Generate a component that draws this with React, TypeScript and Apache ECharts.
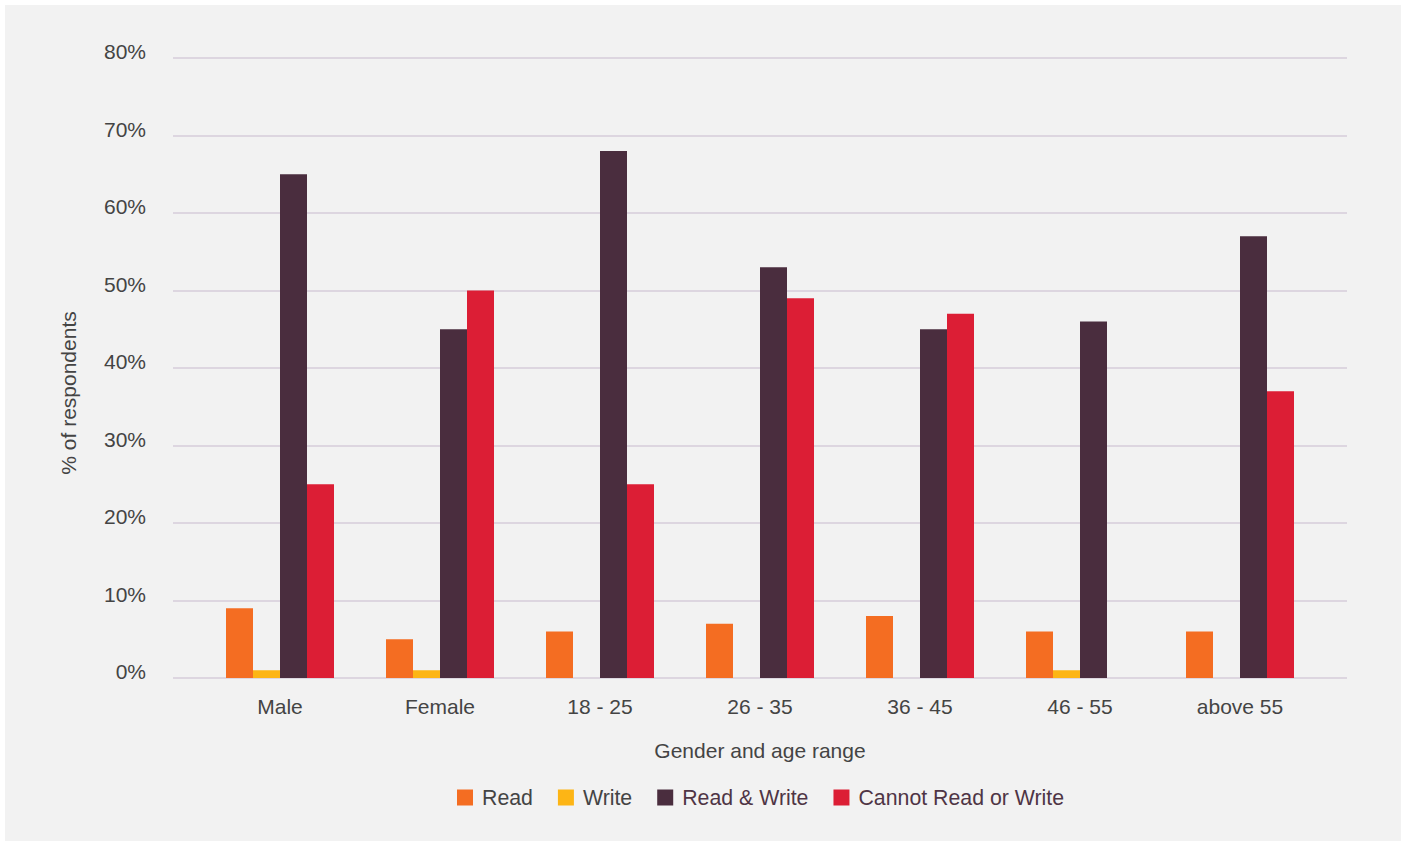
import React, { useEffect, useRef } from "react";
import * as echarts from "echarts";

const categories = ["Male", "Female", "18 - 25", "26 - 35", "36 - 45", "46 - 55", "above 55"];
const readValues = [9, 5, 6, 7, 8, 6, 6];
const writeValues = [1, 1, null, null, null, 1, null];
const readWriteValues = [65, 45, 68, 53, 45, 46, 57];
const cannotValues = [25, 50, 25, 49, 47, null, 37];
const seriesNames = ["Read", "Write", "Read & Write", "Cannot Read or Write"];
const seriesColors = ["#f46d22", "#fdb515", "#4a2d3e", "#dc1e35"];
const yTicks = { min: 0, max: 80, interval: 10 };

const FONT = "Liberation Sans, Arial, Helvetica, sans-serif";

export default function App() {
  const ref = useRef<HTMLDivElement>(null);
  useEffect(() => {
    if (!ref.current) return;
    const chart = echarts.init(ref.current, undefined, { renderer: "svg" });
    const values = [readValues, writeValues, readWriteValues, cannotValues];
    chart.setOption({
      animation: false,
      backgroundColor: "transparent",
      textStyle: { fontFamily: FONT },
      grid: [
        { left: 173, right: 58, top: 58, bottom: 165 },
        { left: 200, width: 1120, top: 58, bottom: 165 },
      ],
      xAxis: [
        { type: "value", gridIndex: 0, show: false, min: 0, max: 1 },
        {
          type: "category",
          gridIndex: 1,
          data: categories,
          axisLine: { show: false },
          axisTick: { show: false },
          axisLabel: { color: "#444", fontSize: 21, fontFamily: FONT, margin: 18 },
        },
      ],
      yAxis: [
        {
          type: "value",
          gridIndex: 0,
          min: yTicks.min,
          max: yTicks.max,
          interval: yTicks.interval,
          axisLine: { show: false },
          axisTick: { show: false },
          axisLabel: {
            formatter: "{value}%",
            color: "#444",
            fontSize: 21,
            fontFamily: FONT,
            margin: 27,
            verticalAlign: "bottom",
            lineHeight: 13,
          },
          splitLine: { lineStyle: { color: "#ddd6e0", width: 2 } },
        },
        {
          type: "value",
          gridIndex: 1,
          min: yTicks.min,
          max: yTicks.max,
          interval: yTicks.interval,
          show: false,
          splitLine: { show: false },
        },
      ],
      legend: {
        left: 452,
        top: 782,
        itemWidth: 16,
        itemHeight: 16,
        itemGap: 25,
        icon: "rect",
        textStyle: { color: "#444", fontSize: 21.3, fontFamily: FONT, padding: [0, 0, 0, 4] },
        data: seriesNames.map((n, i) => ({
          name: n,
          textStyle: { color: i >= 2 ? "#4f3545" : "#444" },
        })),
      },
      graphic: [
        {
          type: "text",
          x: 68,
          y: 393,
          rotation: Math.PI / 2,
          style: {
            text: "% of respondents",
            fill: "#444",
            fontSize: 21,
            fontFamily: FONT,
            align: "center",
            verticalAlign: "middle",
          },
        },
        {
          type: "text",
          x: 760,
          y: 750,
          style: {
            text: "Gender and age range",
            fill: "#444",
            fontSize: 21,
            fontFamily: FONT,
            align: "center",
            verticalAlign: "middle",
          },
        },
      ],
      series: seriesNames.map((n, i) => ({
        name: n,
        type: "bar",
        xAxisIndex: 1,
        yAxisIndex: 1,
        barWidth: 27,
        barGap: "0%",
        itemStyle: { color: seriesColors[i] },
        data: values[i],
      })),
    });
    return () => chart.dispose();
  }, []);
  return (
    <div style={{ position: "fixed", left: 0, top: 0, width: 1405, height: 843, background: "#ffffff" }}>
      <div style={{ position: "absolute", left: 5, top: 5, width: 1396, height: 836, background: "#f2f2f2" }} />
      <div ref={ref} style={{ position: "absolute", left: 0, top: 0, width: 1405, height: 843 }} />
    </div>
  );
}
